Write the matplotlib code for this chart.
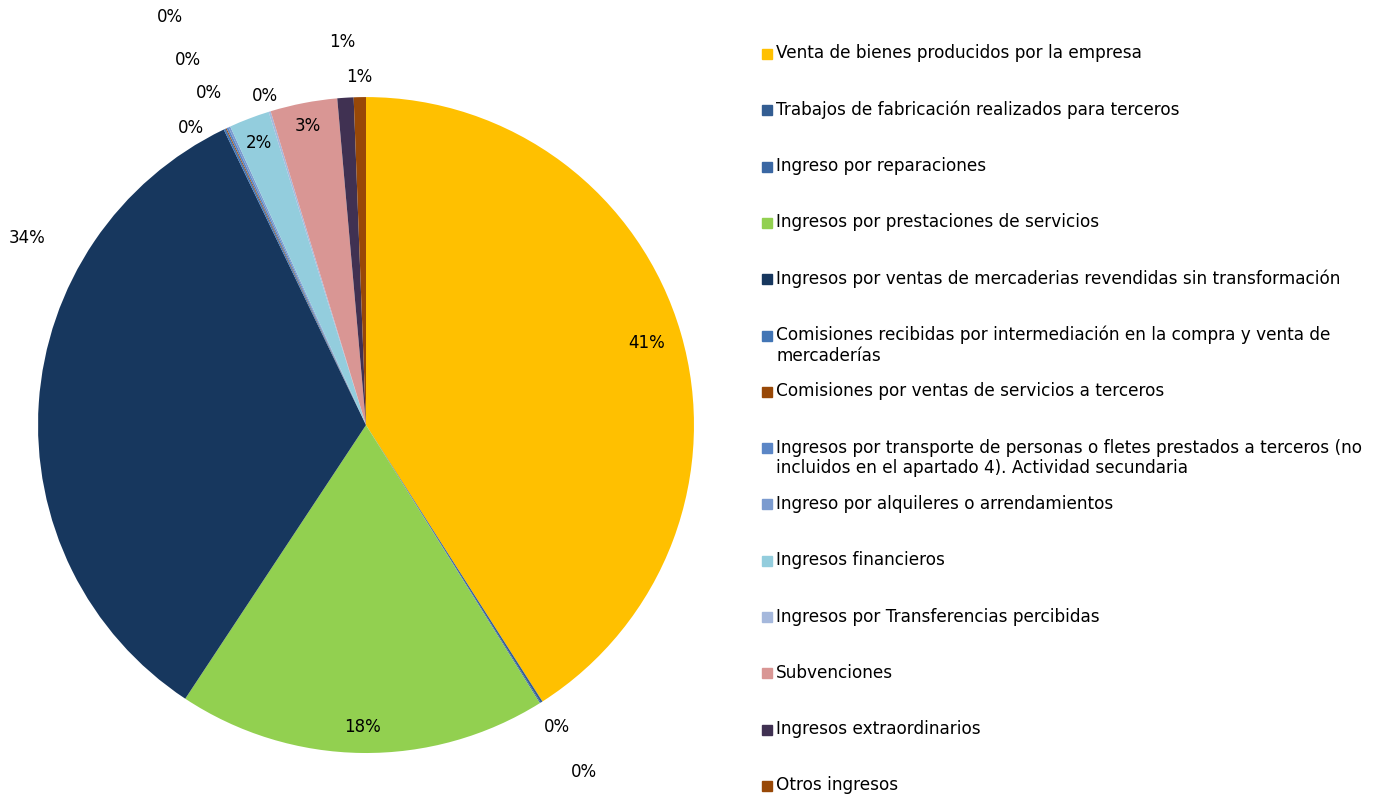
import numpy as np
import matplotlib.pyplot as plt
from matplotlib.patches import Rectangle

plt.rcParams['font.family'] = ['DejaVu Sans']

categories = [
    'Venta de bienes producidos por la empresa',
    'Trabajos de fabricación realizados para terceros',
    'Ingreso por reparaciones',
    'Ingresos por prestaciones de servicios',
    'Ingresos por ventas de mercaderias revendidas sin transformación',
    'Comisiones recibidas por intermediación en la compra y venta de\nmercaderías',
    'Comisiones por ventas de servicios a terceros',
    'Ingresos por transporte de personas o fletes prestados a terceros (no\nincluidos en el apartado 4). Actividad secundaria',
    'Ingreso por alquileres o arrendamientos',
    'Ingresos financieros',
    'Ingresos por Transferencias percibidas',
    'Subvenciones',
    'Ingresos extraordinarios',
    'Otros ingresos',
]
values = [41.0, 0.1, 0.05, 18.2, 33.6, 0.1, 0.05, 0.1, 0.1, 2.0, 0.1, 3.3, 0.8, 0.6]
colors = ['#FFC000', '#335D92', '#3A67A3', '#92D050', '#17375E', '#4275B5',
          '#984807', '#5B86C6', '#7B9BCF', '#93CDDD', '#A5B8DC', '#D99694',
          '#403152', '#984807']

# label placement (radius as fraction of pie radius, angle shift in degrees)
label_r = [0.89, 1.09, 1.25, 0.92, 1.18, 1.05, 1.12, 1.24, 1.38, 0.92, 1.05, 0.93, 1.17, 1.06]
label_da = [0, 0, 0, 0, -25, 5, 0, 1, 1, 0, 0, 0, 0, 0]

fig = plt.figure(figsize=(13.77, 7.97), dpi=100)
ax = fig.add_axes([0.0276, 0.0552, 0.4764, 0.823])

wedges, _ = ax.pie(values, colors=colors, startangle=90, counterclock=False,
                   radius=1, wedgeprops=dict(linewidth=0))
ax.set_xlim(-1, 1)
ax.set_ylim(-1, 1)
ax.set_aspect('equal')

total = sum(values)
for w, v, r, da in zip(wedges, values, label_r, label_da):
    ang = np.deg2rad((w.theta1 + w.theta2) / 2 + da)
    ax.text(r * np.cos(ang), r * np.sin(ang), '%d%%' % round(100 * v / total),
            ha='center', va='center', fontsize=12, color='#000000')

# legend, Excel style
top = 1 - 54 / 797
step = 56.3 / 797
for i, (lab, c) in enumerate(zip(categories, colors)):
    y = top - i * step
    fig.patches.append(Rectangle((762 / 1377, y - 5 / 797), 10 / 1377, 10 / 797,
                                 transform=fig.transFigure, color=c))
    fig.text(776 / 1377, y + 9.5 / 797, lab, ha='left', va='top', fontsize=12.2,
             linespacing=1.2)

fig.savefig('out.png', dpi=100)
